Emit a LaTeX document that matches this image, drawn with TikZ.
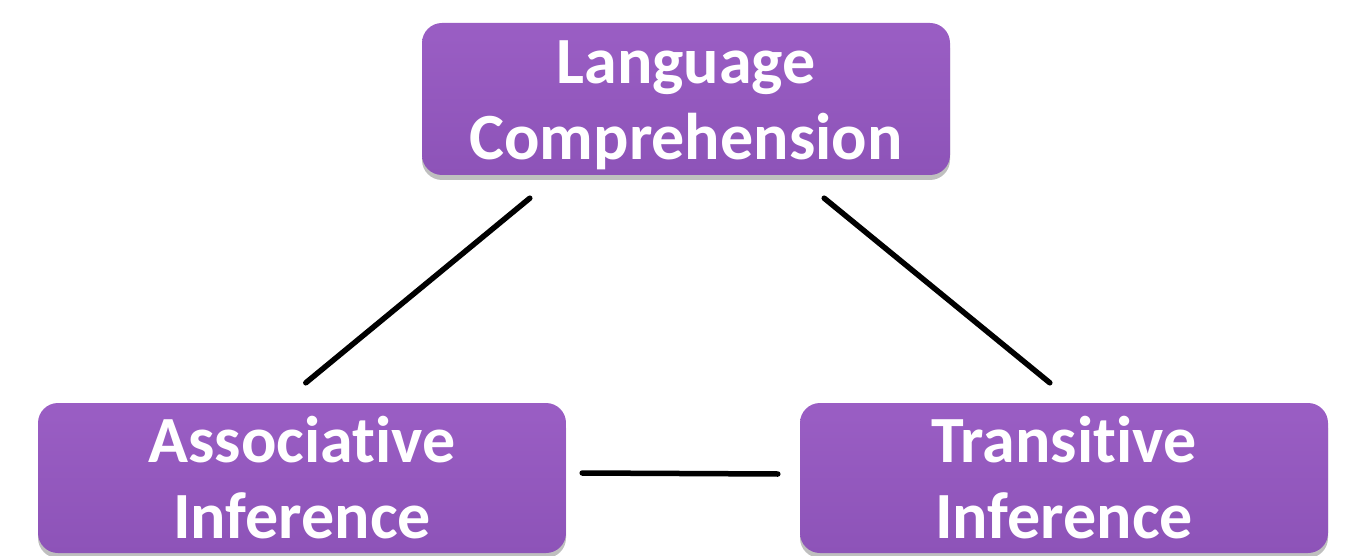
\documentclass[tikz,border=0pt]{standalone}
\usepackage{fontspec}
\setmainfont{Carlito}[Ligatures=NoCommon]
\usetikzlibrary{calc,shadows}
\definecolor{boxpurple}{HTML}{8D53B8}
\definecolor{boxtop}{HTML}{9A5EC4}
\tikzset{
  box/.style={rounded corners=20pt, top color=boxtop, bottom color=boxpurple,
    draw=none, minimum width=528pt, text=white, align=center,
    font=\bfseries\fontsize{66}{76}\selectfont,
    drop shadow={shadow xshift=0pt, shadow yshift=-5pt, opacity=0.25, fill=black}},
  link/.style={line width=5.5pt, black, line cap=round}
}
\begin{document}
\begin{tikzpicture}[x=1pt,y=-1pt]
\useasboundingbox (0,0) rectangle (1349,556);
\node[box, minimum height=152pt] (top) at (686,99) {\rule{0pt}{55pt}Language\\Comprehension};
\node[box, minimum height=150pt] (left) at (302,478) {Associative\\Inference};
\node[box, minimum height=150pt] (right) at (1064,478) {Transitive\\Inference};
\draw[link] ($(top.south west)+(108,23)$) -- ($(left.north west)+(268,-20)$);
\draw[link] ($(top.south east)+(-126,23)$) -- ($(right.north west)+(250,-20)$);
\draw[link] ($(left.east)+(16,-5)$) -- ($(right.west)+(-22,-4)$);
\end{tikzpicture}
\end{document}
